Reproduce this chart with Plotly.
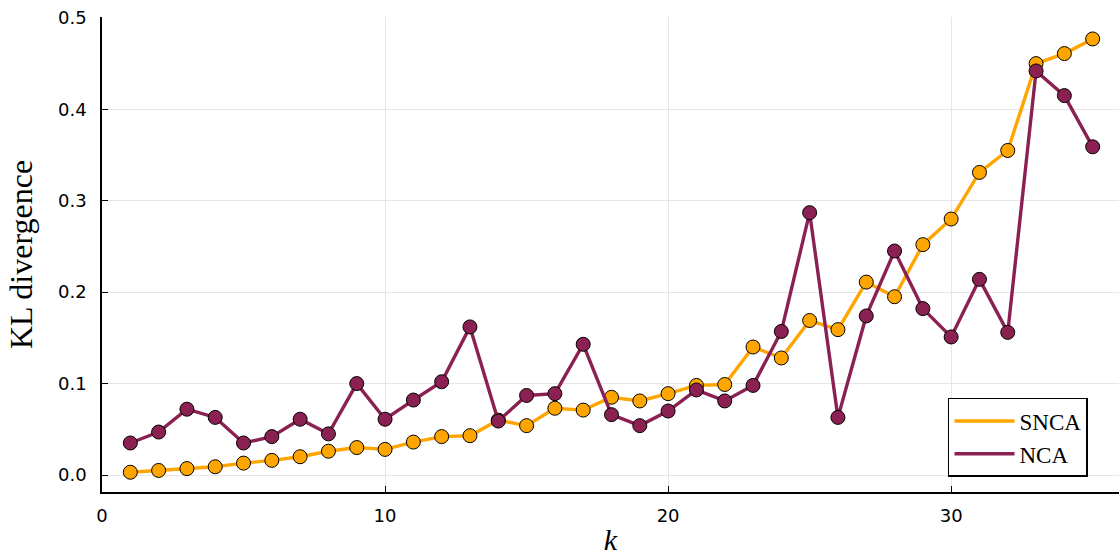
import plotly.graph_objects as go

k = list(range(1, 36))

snca = [0.003, 0.005, 0.007, 0.009, 0.013, 0.016, 0.020, 0.026, 0.030, 0.028,
        0.036, 0.042, 0.043, 0.060, 0.054, 0.073, 0.071, 0.085, 0.081, 0.089,
        0.098, 0.099, 0.140, 0.128, 0.169, 0.159, 0.211, 0.195, 0.252, 0.280,
        0.331, 0.355, 0.450, 0.461, 0.477]

nca = [0.035, 0.047, 0.072, 0.063, 0.035, 0.042, 0.061, 0.045, 0.100, 0.061,
       0.082, 0.102, 0.162, 0.059, 0.087, 0.089, 0.143, 0.066, 0.054, 0.070,
       0.093, 0.081, 0.098, 0.157, 0.287, 0.063, 0.174, 0.245, 0.182, 0.151,
       0.214, 0.156, 0.442, 0.415, 0.359]

x_ticks = [0, 10, 20, 30]
y_ticks = [0.0, 0.1, 0.2, 0.3, 0.4, 0.5]
y_tick_labels = ["0.0", "0.1", "0.2", "0.3", "0.4", "0.5"]

ORANGE = "#FFA500"
PURPLE = "#8A2152"
SERIF = "Liberation Serif, DejaVu Serif, serif"
SANS = "DejaVu Sans, sans-serif"

fig = go.Figure()

for name, vals, col in [("SNCA", snca, ORANGE), ("NCA", nca, PURPLE)]:
    fig.add_trace(go.Scatter(
        x=k, y=vals, mode="lines+markers", name=name, showlegend=False,
        line=dict(color=col, width=3.4),
        marker=dict(color=col, size=14, line=dict(color="black", width=1)),
    ))

# legend entries show only the line style
for name, col in [("SNCA", ORANGE), ("NCA", PURPLE)]:
    fig.add_trace(go.Scatter(
        x=[None], y=[None], mode="lines", name=name,
        line=dict(color=col, width=3.5),
    ))

axis_common = dict(
    showline=True, linecolor="black", linewidth=1.5,
    ticks="inside", ticklen=6, tickcolor="black", tickwidth=1.2,
    showgrid=True, gridcolor="#e6e6e6", gridwidth=1,
    zeroline=False, mirror=False,
    tickfont=dict(family=SANS, size=18, color="black"),
)

fig.update_layout(
    width=1119, height=559,
    margin=dict(l=102, r=0, t=17, b=67),
    plot_bgcolor="white", paper_bgcolor="white",
    xaxis=dict(
        range=[0, 35.93], tickvals=x_ticks, ticklabelstandoff=7,
        title=dict(text="<i>k</i>", font=dict(family=SERIF, size=30, color="black"),
                   standoff=4),
        **axis_common,
    ),
    yaxis=dict(
        range=[-0.0186, 0.501], tickvals=y_ticks, ticktext=y_tick_labels,
        ticklabelstandoff=10,
        title=dict(text="KL divergence", font=dict(family=SERIF, size=32, color="black"),
                   standoff=16),
        **axis_common,
    ),
    legend=dict(
        x=0.9695, y=0.0316, xanchor="right", yanchor="bottom",
        bgcolor="white", bordercolor="black", borderwidth=1.5,
        font=dict(family=SERIF, size=23, color="black"),
        itemwidth=60, tracegroupgap=0,
    ),
)

fig.write_html("out.html")
